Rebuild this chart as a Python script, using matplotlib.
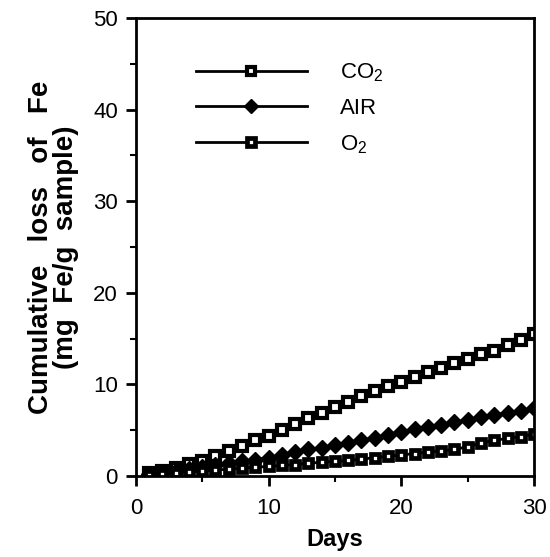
import matplotlib
matplotlib.use("Agg")
import matplotlib.pyplot as plt
from matplotlib.ticker import MultipleLocator

plt.rcParams['font.family'] = ['Liberation Sans', 'DejaVu Sans']
plt.rcParams['mathtext.fontset'] = 'custom'
plt.rcParams['mathtext.rm'] = 'Liberation Sans'

days = list(range(1, 31))
co2 = [0.3, 0.6, 0.9, 1.3, 1.6, 2.2, 2.7, 3.3, 3.9, 4.4,
       5.0, 5.7, 6.3, 6.9, 7.5, 8.1, 8.7, 9.3, 9.8, 10.3,
       10.8, 11.3, 11.8, 12.3, 12.8, 13.3, 13.7, 14.3, 14.9, 15.5]
air = [0.2, 0.4, 0.6, 0.8, 1.0, 1.2, 1.4, 1.6, 1.8, 2.0,
       2.3, 2.6, 2.9, 3.1, 3.4, 3.6, 3.9, 4.2, 4.5, 4.8,
       5.1, 5.4, 5.6, 5.9, 6.1, 6.4, 6.7, 6.9, 7.1, 7.4]
o2 = [0.1, 0.2, 0.35, 0.45, 0.55, 0.65, 0.75, 0.85, 0.95, 1.05,
      1.15, 1.25, 1.4, 1.5, 1.6, 1.7, 1.85, 2.0, 2.15, 2.3,
      2.45, 2.6, 2.75, 2.9, 3.2, 3.6, 3.9, 4.1, 4.3, 4.6]
labels = [r'CO$_2$', 'AIR', r'O$_2$']

fig = plt.figure(figsize=(5.5, 5.57), dpi=100)
ax = fig.add_axes([0.247, 0.1454, 0.724, 0.8223])

ax.plot(days, co2, color='black', lw=2, marker='s', ms=6.5, mfc='white',
        mec='black', mew=3, label=labels[0])
ax.plot(days, air, color='black', lw=2, marker='D', ms=8, mfc='black',
        mec='black', label=labels[1])
ax.plot(days, o2, color='black', lw=2, marker='s', ms=6.3, mfc='white',
        mec='black', mew=3.4, label=labels[2])

ax.set_xlim(0, 30)
ax.set_ylim(0, 50)
ax.xaxis.set_major_locator(MultipleLocator(10))
ax.xaxis.set_minor_locator(MultipleLocator(5))
ax.yaxis.set_major_locator(MultipleLocator(10))
ax.yaxis.set_minor_locator(MultipleLocator(5))
ax.tick_params(which='major', direction='out', length=7, width=2, labelsize=16, pad=6)
ax.tick_params(axis='x', which='major', pad=9)
ax.tick_params(which='minor', direction='out', length=4, width=1.5)
for s in ax.spines.values():
    s.set_linewidth(2)

ax.set_xlabel('Days', fontsize=17, fontweight='bold', labelpad=6)
ax.set_ylabel('Cumulative   loss   of   Fe\n(mg  Fe/g  sample)', fontsize=20,
              fontweight='bold', labelpad=10, linespacing=0.95)

leg = ax.legend(loc='upper left', bbox_to_anchor=(0.1, 0.948), frameon=False,
                fontsize=16, handlelength=5.0, handletextpad=1.5,
                labelspacing=0.62, numpoints=1, markerscale=0.9)

fig.savefig('out.png', dpi=100)
